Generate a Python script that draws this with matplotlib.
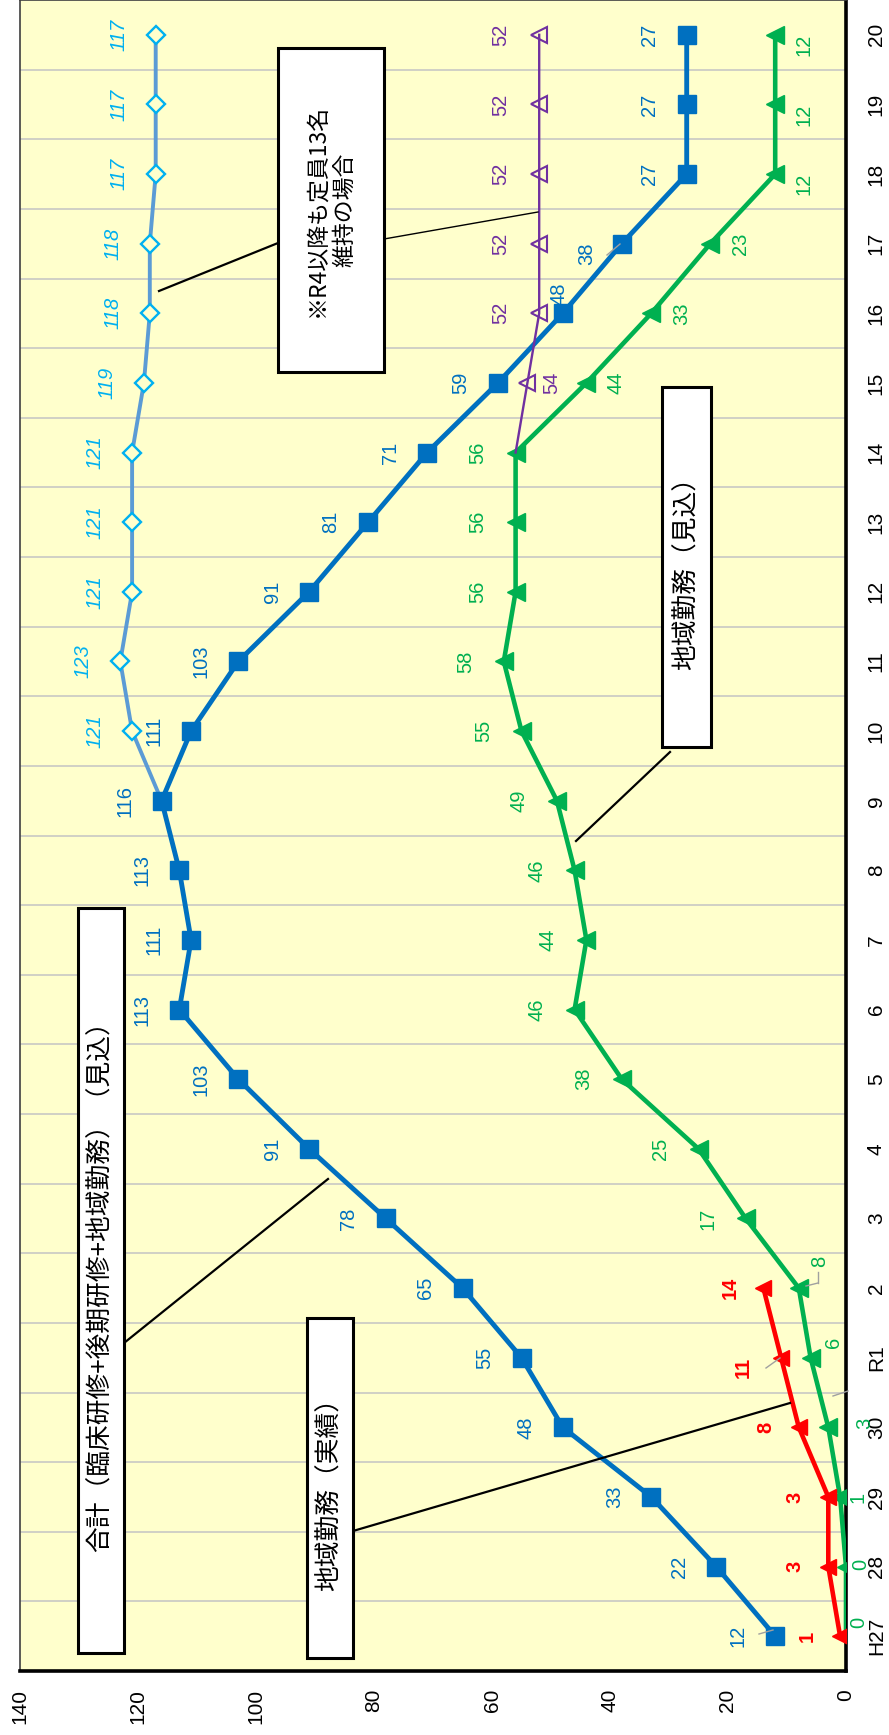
import numpy as np
import matplotlib
matplotlib.use('Agg')
import matplotlib.pyplot as plt
from matplotlib.patches import Rectangle
from matplotlib.lines import Line2D

plt.rcParams['font.family'] = ['Liberation Sans', 'Noto Sans CJK JP', 'DejaVu Sans']

nan = np.nan
years = ['H27', '28', '29', '30', 'R1', '2', '3', '4', '5', '6', '7', '8', '9',
         '10', '11', '12', '13', '14', '15', '16', '17', '18', '19', '20']
total = [12, 22, 33, 48, 55, 65, 78, 91, 103, 113, 111, 113, 116, 111, 103, 91,
         81, 71, 59, 48, 38, 27, 27, 27]
total_keep = [nan] * 12 + [116, 121, 123, 121, 121, 121, 119, 118, 118, 117, 117, 117]
regional_plan = [0, 0, 1, 3, 6, 8, 17, 25, 38, 46, 44, 46, 49, 55, 58, 56, 56, 56,
                 44, 33, 23, 12, 12, 12]
regional_actual = [1, 3, 3, 8, 11, 14] + [nan] * 18
regional_keep = [nan] * 17 + [56, 54, 52, 52, 52, 52, 52]
value_ticks = [0, 20, 40, 60, 80, 100, 120, 140]

W, H, DPI = 889, 1735, 100
PT = 72.0 / DPI

C_BLUE = '#0070C0'
C_LBLUE_LINE = '#5B9BD5'
C_LBLUE = '#00B0F0'
C_GREEN = '#00B050'
C_RED = '#FF0000'
C_PURPLE = '#7030A0'

fig = plt.figure(figsize=(W / DPI, H / DPI), dpi=DPI)
fig.patch.set_facecolor('white')
ax = fig.add_axes([20 / W, (H - 1671) / H, 826 / W, 1671 / H])
ax.set_facecolor('#FFFFCC')

idx = np.arange(len(years))

ax.set_xlim(140, 0)
ax.set_ylim(-0.5, len(years) - 0.5)

for k in range(len(years) - 1):
    ax.axhline(k + 0.5, color='#C4C4C4', lw=1.1, zorder=1)

# lines
ax.plot(total_keep, idx, color=C_LBLUE_LINE, lw=2.8, zorder=3)
ax.plot(np.array(total_keep)[13:], idx[13:], ls='none', marker='D', ms=9.5,
        mfc='#FFFFCC', mec=C_LBLUE, mew=1.7, zorder=4)
ax.plot(regional_plan, idx, color=C_GREEN, lw=3.3, marker='<', ms=13,
        mfc=C_GREEN, mec=C_GREEN, zorder=4)
ax.plot(regional_actual, idx, color=C_RED, lw=3.3, marker='<', ms=12,
        mfc=C_RED, mec=C_RED, zorder=5)
ax.plot(total, idx, color=C_BLUE, lw=3.5, marker='s', ms=13.5,
        mfc=C_BLUE, mec=C_BLUE, zorder=6)
ax.plot(regional_keep, idx, color=C_PURPLE, lw=1.7, zorder=7)
ax.plot(np.array(regional_keep)[18:], idx[18:], ls='none', marker='<', ms=11,
        mfc='none', mec=C_PURPLE, mew=1.5, zorder=7)

# ticks
ax.set_xticks(value_ticks)
ax.set_xticklabels([str(v) for v in value_ticks], rotation=90, fontsize=15)
ax.tick_params(axis='x', length=0, pad=13)
ax.yaxis.tick_right()
ax.set_yticks(idx)
ax.set_yticklabels(years, rotation=90, fontsize=15, va='center')
ax.tick_params(axis='y', length=0, pad=15)

for s in ['top', 'left']:
    ax.spines[s].set_linewidth(1.2)
    ax.spines[s].set_color('#404040')
for s in ['right', 'bottom']:
    ax.spines[s].set_linewidth(2.6)
    ax.spines[s].set_color('black')


def lab(x, y, s, dx, dy, color, size=14.5, **kw):
    ax.annotate(s, (x, y), xytext=(dx * PT, -dy * PT), textcoords='offset points',
                rotation=90, ha='center', va='center', color=color,
                fontsize=size, zorder=8, **kw)


# data labels (offsets in pixels: right, down)
blue_off = {19: (-4, -20), 20: (-35, 10)}
for i, v in enumerate(total):
    dx, dy = blue_off.get(i, (-37, 0))
    lab(v, i, str(v), dx, dy, C_BLUE)

for i, v in enumerate(total_keep):
    if i >= 13 and not np.isnan(v):
        lab(v, i, str(v), -37, 0, C_LBLUE, style='italic')

green_off = {0: (13, -14), 1: (15, -2), 2: (18, 0), 3: (36, -4), 4: (23, -15),
             5: (21, -27), 18: (30, 0), 19: (30, 0), 20: (30, 0),
             21: (29, 10), 22: (29, 10), 23: (29, 10)}
for i, v in enumerate(regional_plan):
    dx, dy = green_off.get(i, (-38, 0))
    lab(v, i, str(v), dx, dy, C_GREEN)

red_off = {4: (-38, 10)}
for i, v in enumerate(regional_actual):
    if not np.isnan(v):
        dx, dy = red_off.get(i, (-33, 0))
        lab(v, i, str(int(v)), dx, dy, C_RED, weight='bold')

for i, v in enumerate(regional_keep):
    if i >= 18 and not np.isnan(v):
        dx, dy = (24, 0) if i == 18 else (-38, 0)
        lab(v, i, str(int(v)), dx, dy, C_PURPLE)


# annotation boxes and leader lines (figure pixel coordinates)
def fx(px):
    return px / W


def fy(py):
    return 1 - py / H


def box(x0, y0, x1, y1, text, size, ls=1.0):
    fig.add_artist(Rectangle((fx(x0), fy(y1)), fx(x1) - fx(x0), fy(y0) - fy(y1),
                             transform=fig.transFigure, fc='white', ec='black',
                             lw=2.2, zorder=10))
    fig.text(fx((x0 + x1) / 2), fy((y0 + y1) / 2), text, rotation=90,
             ha='center', va='center', fontsize=size, zorder=11,
             family=['Noto Sans CJK JP', 'DejaVu Sans'],
             multialignment='center', linespacing=ls)


def leader(p0, p1, lw=1.6, color='black'):
    fig.add_artist(Line2D([fx(p0[0]), fx(p1[0])], [fy(p0[1]), fy(p1[1])],
                          transform=fig.transFigure, color=color, lw=lw, zorder=9))


leader((124, 1343), (328, 1179))
leader((353, 1531), (790, 1403))
leader((278, 243), (159, 291))
leader((384, 239), (538, 212), lw=1.0)
leader((670, 752), (576, 841))

# small gray data-label leaders
leader((759, 1634), (773, 1630), lw=1.0, color='#A0A0A0')
leader((607, 255), (620, 244), lw=1.0, color='#A0A0A0')
leader((766, 1368), (780, 1358), lw=1.0, color='#A0A0A0')
leader((806, 1286), (818, 1283), lw=1.0, color='#A0A0A0')
leader((818, 1283), (818, 1272), lw=1.0, color='#A0A0A0')
leader((833, 1396), (848, 1391), lw=1.0, color='#A0A0A0')

box(78, 908, 124, 1653, '合計（臨床研修+後期研修+地域勤務）（見込）', 18.5)
box(307, 1318, 353, 1658, '地域勤務（実績）', 18.5)
box(662, 387, 711, 747, '地域勤務（見込）', 18.5)
box(278, 48, 384, 372, '※R4以降も定員13名\n維持の場合', 16.5, ls=1.3)

fig.savefig('out.png', dpi=DPI)
